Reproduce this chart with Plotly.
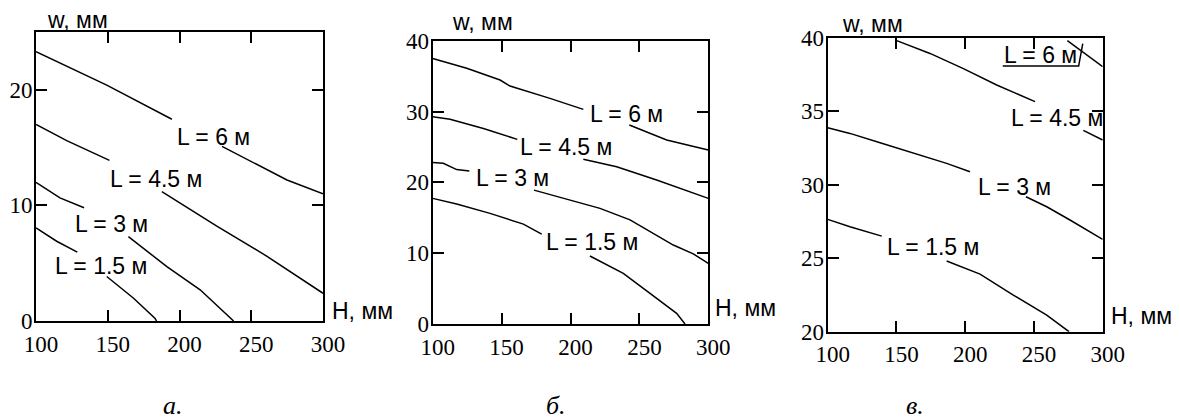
import plotly.graph_objects as go

# ---------------- data ----------------
x_ticks = [100, 150, 200, 250, 300]
y_ticks_a = [0, 10, 20]
y_ticks_b = [0, 10, 20, 30, 40]
y_ticks_c = [20, 25, 30, 35, 40]
curve_labels = ["L = 1.5 м", "L = 3 м", "L = 4.5 м", "L = 6 м"]
captions = ["а.", "б.", "в."]

# panel а (None = gap left for the contour label)
H_a_15 = [100, 114.4, 128.8, None, 149.3, 168, 183, 184]
w_a_15 = [8.05, 6.9, 5.96, None, 3.85, 1.97, 0.23, 0]
H_a_3 = [100, 116.7, 133.5, None, 164.4, 191.2, 214.4, 237.7]
w_a_3 = [12.0, 10.65, 9.8, None, 7.3, 4.7, 2.7, 0]
H_a_45 = [100, 121.4, 151.2, None, 187.7, 226, 261, 300]
w_a_45 = [17.0, 15.6, 13.9, None, 11.2, 8.2, 5.6, 2.4]
H_a_6 = [100, 149.3, 194.7, None, 229.6, 274.9, 300]
w_a_6 = [23.3, 20.4, 17.45, None, 15.1, 12.2, 11.0]
lab_H_a = [145.6, 152.6, 183.5, 223.7]
lab_w_a = [4.8, 8.4, 12.3, 15.9]

# panel б
H_b_15 = [100, 117.4, 141.6, 165.8, 179.1, None, 214.1, 238.3, 257.7, 277, 283.1]
w_b_15 = [17.74, 16.94, 15.62, 14.1, 12.7, None, 9.6, 7.15, 4.33, 1.5, 0]
H_b_3 = [100, 107.7, 117.4, 126.6, None, 173.5, 197.2, 221.4, 243.2, 274.6, 289.1, 300]
w_b_3 = [22.8, 22.7, 21.8, 21.6, None, 18.9, 17.6, 16.33, 14.7, 11.15, 9.9, 8.56]
H_b_45 = [100, 112.6, 136.8, 161.4, None, 209.3, 233.5, 262.5, 300]
w_b_45 = [29.27, 28.9, 27.6, 26.07, None, 23.25, 22.2, 20.33, 17.74]
H_b_6 = [100, 124.7, 148.9, 156.1, 185.1, 209.3, None, 242.7, 269.8, 300]
w_b_6 = [37.5, 36.1, 34.45, 33.6, 31.86, 30.3, None, 28.1, 25.98, 24.57]
lab_H_b = [215.4, 157.8, 196.7, 240.3]
lab_w_b = [11.6, 20.6, 25.0, 29.7]

# panel в
H_c_15 = [100, 116.2, 139.3, None, 186.5, 210.8, 235, 259.3, 275.5]
w_c_15 = [27.64, 27.14, 26.5, None, 24.81, 23.92, 22.49, 21.13, 20.0]
H_c_3 = [100, 116.2, 138.1, 162.3, 186.5, 203.5, None, 244.2, 259.3, 276.2, 300]
w_c_3 = [33.88, 33.49, 32.86, 32.18, 31.45, 30.88, None, 29.18, 28.5, 27.6, 26.28]
H_c_45 = [150.2, 174.4, 198.7, 222.9, 250.8, None, 285.9, 300]
w_c_45 = [39.8, 38.93, 37.9, 36.78, 35.65, None, 33.7, 33.04]
H_c_6 = [274.3, 287.1, 300]
w_c_6 = [39.8, 38.9, 38.03]
H_c_6box = [227.3, 282.5, 285.5]
w_c_6box = [38.07, 38.07, 39.6]
lab_H_c = [176.6, 236.2, 266.5, 254.4]
lab_w_c = [25.74, 29.86, 34.51, 38.82]

# ---------------- figure ----------------
# the page body has an 8px margin, so the figure is drawn 8px smaller and
# all layout positions (measured in window pixels) are shifted by 8px
OFF = 8
W, Hh = 1180 - OFF, 420 - OFF
SERIF = "Liberation Serif, Times New Roman, serif"
SANS = "Liberation Sans, Arial, sans-serif"
fig = go.Figure()

line = dict(color="black", width=1.5)


def add(xs, ys, k):
    fig.add_trace(go.Scatter(x=xs, y=ys, mode="lines", line=line,
                             xaxis="x" + ("" if k == 1 else str(k)),
                             yaxis="y" + ("" if k == 1 else str(k)),
                             showlegend=False, hoverinfo="skip",
                             connectgaps=False))


for xs, ys in [(H_a_15, w_a_15), (H_a_3, w_a_3), (H_a_45, w_a_45), (H_a_6, w_a_6)]:
    add(xs, ys, 1)
for xs, ys in [(H_b_15, w_b_15), (H_b_3, w_b_3), (H_b_45, w_b_45), (H_b_6, w_b_6)]:
    add(xs, ys, 2)
for xs, ys in [(H_c_15, w_c_15), (H_c_3, w_c_3), (H_c_45, w_c_45), (H_c_6, w_c_6),
               (H_c_6box, w_c_6box)]:
    add(xs, ys, 3)


def px_x(p):
    return (p - OFF) / W


def px_y(p):
    return 1 - (p - OFF) / Hh


tickfont = dict(family=SERIF, size=23, color="black")
common = dict(showline=True, linewidth=2, linecolor="black", mirror="ticks",
              ticks="inside", ticklen=11, tickwidth=2, tickcolor="black",
              showgrid=False, zeroline=False, tickfont=tickfont, fixedrange=True,
              automargin=False)

panels = [
    dict(xd=(36, 323), yd=(32, 321), yr=[0, 25], yt=y_ticks_a),
    dict(xd=(432.7, 708.3), yd=(40.7, 324), yr=[0, 40], yt=y_ticks_b),
    dict(xd=(827.7, 1102.7), yd=(37.7, 331.7), yr=[20, 40], yt=y_ticks_c),
]
layout = {}
for i, p in enumerate(panels):
    sfx = "" if i == 0 else str(i + 1)
    layout["xaxis" + sfx] = dict(common, domain=[px_x(p["xd"][0]), px_x(p["xd"][1])],
                                 range=[100, 300], tickvals=x_ticks,
                                 anchor="y" + sfx, ticklabelshift=5,
                                 ticklabelstandoff=1)
    layout["yaxis" + sfx] = dict(common, domain=[px_y(p["yd"][1]), px_y(p["yd"][0])],
                                 range=p["yr"], tickvals=p["yt"],
                                 anchor="x" + sfx, ticklabelstandoff=-3)

fig.update_layout(**layout)

ann = []
labfont = dict(family=SANS, size=23, color="black")
for k, (hs, ws) in enumerate([(lab_H_a, lab_w_a), (lab_H_b, lab_w_b), (lab_H_c, lab_w_c)]):
    sfx = "" if k == 0 else str(k + 1)
    for t, hx, wy in zip(curve_labels, hs, ws):
        ann.append(dict(x=hx, y=wy, xref="x" + sfx, yref="y" + sfx, text=t,
                        showarrow=False, font=labfont, xanchor="center", yanchor="middle"))

titlefont = dict(family=SANS, size=23, color="black")
hfont = dict(family=SANS, size=23, color="black")
for (wx, wy), (hx, hy) in zip([(45, 20), (450, 21.7), (840, 24)],
                              [(330, 311), (713, 307.5), (1109, 315.8)]):
    ann.append(dict(x=px_x(wx), y=px_y(wy), xref="paper", yref="paper", text="w, мм",
                    showarrow=False, font=titlefont, xanchor="left", yanchor="middle"))
    ann.append(dict(x=px_x(hx), y=px_y(hy), xref="paper", yref="paper", text="H, мм",
                    showarrow=False, font=hfont, xanchor="left", yanchor="middle"))

capfont = dict(family=SERIF, size=26, color="black", style="italic")
for t, cx in zip(captions, [173, 556, 915]):
    ann.append(dict(x=px_x(cx), y=px_y(405), xref="paper", yref="paper", text=t,
                    showarrow=False, font=capfont, xanchor="center", yanchor="middle"))

fig.update_layout(annotations=ann, width=W, height=Hh,
                  margin=dict(l=0, r=0, t=0, b=0, autoexpand=False),
                  paper_bgcolor="white", plot_bgcolor="white", showlegend=False)

fig.write_html("out.html", config={"displayModeBar": False})
